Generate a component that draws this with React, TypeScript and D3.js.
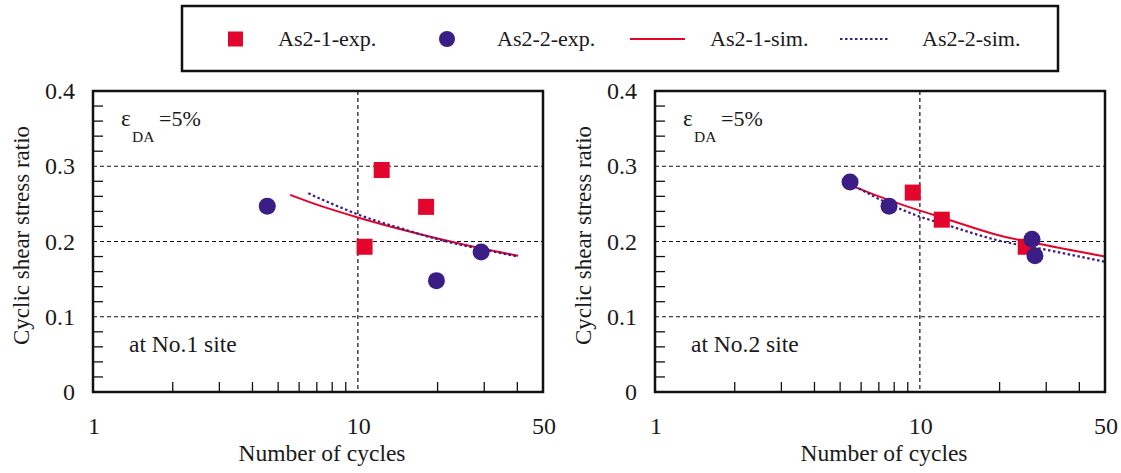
import React from "react";
import * as d3 from "d3";

// ---- data ----
const seriesNames = ["As2-1-exp.", "As2-2-exp.", "As2-1-sim.", "As2-2-sim."];
const xTickLabels = [1, 10, 50];
const yTickLabels = [0, 0.1, 0.2, 0.3, 0.4];
const siteLabels = ["at No.1 site", "at No.2 site"];

// site 1
const s1Exp1: [number, number][] = [[12.3, 0.295], [18.1, 0.246], [10.6, 0.193]];
const s1Exp2: [number, number][] = [[4.55, 0.247], [19.8, 0.148], [29.2, 0.186]];
const s1Sim1: [number, number][] = [[5.55, 0.262], [7, 0.249], [10, 0.232], [15, 0.215], [20, 0.204], [30, 0.190], [40.3, 0.181]];
const s1Sim2: [number, number][] = [[6.5, 0.264], [8, 0.250], [10, 0.236], [15, 0.216], [20, 0.203], [30, 0.189], [40.3, 0.180]];

// site 2
const s2Exp1: [number, number][] = [[9.4, 0.265], [12.1, 0.229], [25.1, 0.193]];
const s2Exp2: [number, number][] = [[5.45, 0.279], [7.65, 0.247], [26.5, 0.203], [27.2, 0.181]];
const s2Sim1: [number, number][] = [[5.45, 0.275], [7.65, 0.255], [10, 0.241], [12.1, 0.232], [20, 0.208], [30, 0.195], [50, 0.180]];
const s2Sim2: [number, number][] = [[5.45, 0.277], [7.65, 0.250], [10, 0.233], [12.1, 0.224], [20, 0.201], [30, 0.189], [50, 0.173]];

const RED = "#e2062c";
const BLUE = "#3b1d86";
const FONT = "Liberation Serif, DejaVu Serif, serif";
const TXT = "#1a1a1a";

const W = 1121;
const H = 473;

const tStyle = { fontFamily: FONT } as React.CSSProperties;

type PanelProps = {
  x0: number;
  exp1: [number, number][];
  exp2: [number, number][];
  sim1: [number, number][];
  sim2: [number, number][];
  site: string;
};

function Panel({ x0, exp1, exp2, sim1, sim2, site }: PanelProps) {
  const left = x0;
  const right = x0 + 450;
  const top = 91;
  const bottom = 392;
  const x = d3.scaleLog().domain([1, 50]).range([left, right]);
  const y = d3.scaleLinear().domain([0, 0.4]).range([bottom, top]);
  const line = d3
    .line<[number, number]>()
    .x((d) => x(d[0]))
    .y((d) => y(d[1]))
    .curve(d3.curveMonotoneX);

  const xMinor = [2, 3, 4, 5, 6, 7, 8, 9, 20, 30, 40];
  const yMinor = d3.range(1, 20).map((i) => i * 0.02).filter((v) => Math.abs(v * 10 - Math.round(v * 10)) > 1e-6);
  const gridY = [0.1, 0.2, 0.3];
  const gridX = [10];

  return (
    <g>
      {gridY.map((v) => (
        <line key={"gy" + v} x1={left} x2={right} y1={y(v)} y2={y(v)} stroke="#111" strokeWidth={1.2} strokeDasharray="4,3" />
      ))}
      {gridX.map((v) => (
        <line key={"gx" + v} x1={x(v)} x2={x(v)} y1={top} y2={bottom} stroke="#111" strokeWidth={1.2} strokeDasharray="4,3" />
      ))}
      {xMinor.map((v) => (
        <line key={"xt" + v} x1={x(v)} x2={x(v)} y1={bottom} y2={bottom - 10} stroke="#111" strokeWidth={1.3} />
      ))}
      {yMinor.map((v) => (
        <line key={"yt" + v} x1={left} x2={left + 10} y1={y(v)} y2={y(v)} stroke="#111" strokeWidth={1.3} />
      ))}
      <path d={line(sim1) || ""} fill="none" stroke={RED} strokeWidth={2} />
      <path d={line(sim2) || ""} fill="none" stroke={BLUE} strokeWidth={2.2} strokeDasharray="2.5,2.5" />
      {exp1.map((d, i) => (
        <rect key={"s" + i} x={x(d[0]) - 8} y={y(d[1]) - 8} width={16} height={16} fill={RED} />
      ))}
      {exp2.map((d, i) => (
        <circle key={"c" + i} cx={x(d[0])} cy={y(d[1])} r={8.5} fill={BLUE} />
      ))}
      <rect x={left} y={top} width={right - left} height={bottom - top} fill="none" stroke="#111" strokeWidth={2.5} />
      {yTickLabels.map((v) => (
        <text key={"yl" + v} x={left - 18} y={y(v)} textAnchor="end" dominantBaseline="central" style={tStyle} fontSize={24} fill={TXT}>
          {v === 0 ? "0" : v.toFixed(1)}
        </text>
      ))}
      {xTickLabels.map((v) => (
        <text key={"xl" + v} x={x(v) + 1} y={434} textAnchor="middle" style={tStyle} fontSize={24} fill={TXT}>
          {v}
        </text>
      ))}
      <text x={(left + right) / 2 + 4} y={461} textAnchor="middle" style={tStyle} fontSize={23.5} fill={TXT}>
        Number of cycles
      </text>
      <text
        transform={`translate(${left - 72},${(top + bottom) / 2 - 6}) rotate(-90)`}
        textAnchor="middle"
        dominantBaseline="central"
        style={tStyle}
        fontSize={23}
        fill={TXT}
      >
        Cyclic shear stress ratio
      </text>
      <text x={left + 28} y={126} style={tStyle} fontSize={23} fill={TXT}>ε</text>
      <text x={left + 39} y={142} style={tStyle} fontSize={15.5} fill={TXT}>DA</text>
      <text x={left + 66} y={126} style={tStyle} fontSize={22} fill={TXT}>=5%</text>
      <text x={left + 36} y={352} style={tStyle} fontSize={23.5} fill={TXT}>{site}</text>
    </g>
  );
}

function Legend() {
  const ly = 39;
  return (
    <g>
      <rect x={182} y={6} width={876} height={65} fill="#fff" stroke="#111" strokeWidth={2.5} />
      <rect x={228} y={ly - 7.5} width={15} height={15} fill={RED} />
      <text x={278} y={ly + 7} style={tStyle} fontSize={22} fill={TXT}>{seriesNames[0]}</text>
      <circle cx={447} cy={ly} r={8} fill={BLUE} />
      <text x={497} y={ly + 7} style={tStyle} fontSize={22} fill={TXT}>{seriesNames[1]}</text>
      <line x1={630} x2={685} y1={ly} y2={ly} stroke={RED} strokeWidth={2} />
      <text x={710} y={ly + 7} style={tStyle} fontSize={22} fill={TXT}>{seriesNames[2]}</text>
      <line x1={840} x2={890} y1={ly} y2={ly} stroke={BLUE} strokeWidth={2.2} strokeDasharray="2.5,2.5" />
      <text x={922} y={ly + 7} style={tStyle} fontSize={22} fill={TXT}>{seriesNames[3]}</text>
    </g>
  );
}

export default function App() {
  return (
    <svg width={W} height={H} style={{ position: "absolute", left: 0, top: 0, background: "#fff" }}>
      <rect x={0} y={0} width={W} height={H} fill="#fff" />
      <Legend />
      <Panel x0={93} exp1={s1Exp1} exp2={s1Exp2} sim1={s1Sim1} sim2={s1Sim2} site={siteLabels[0]} />
      <Panel x0={655} exp1={s2Exp1} exp2={s2Exp2} sim1={s2Sim1} sim2={s2Sim2} site={siteLabels[1]} />
    </svg>
  );
}
